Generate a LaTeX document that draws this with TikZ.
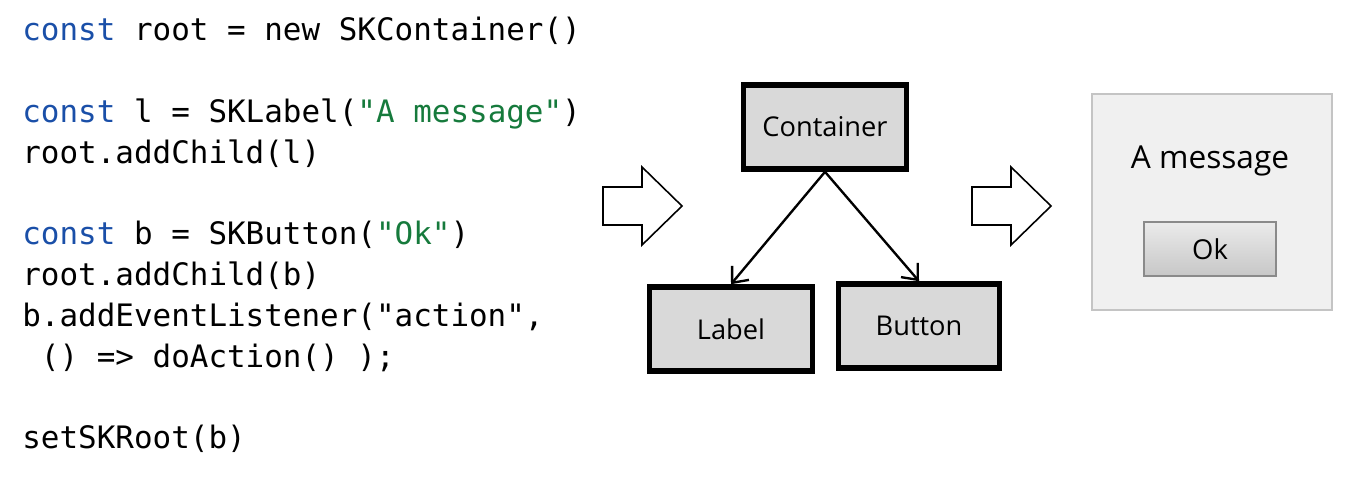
\documentclass[tikz,border=0pt]{standalone}
\usepackage{fontspec}
\setmainfont{Open Sans}
\setmonofont{DejaVu Sans Mono}
\usetikzlibrary{positioning, arrows.meta, calc}
\definecolor{kwblue}{HTML}{1A4FA8}
\definecolor{strgreen}{HTML}{167A3C}
\definecolor{boxgray}{HTML}{D9D9D9}
\definecolor{winfill}{HTML}{F0F0F0}
\definecolor{winedge}{HTML}{C4C4C4}
\definecolor{btnedge}{HTML}{8A8A8A}
\newcommand{\kw}[1]{\textcolor{kwblue}{#1}}
\newcommand{\str}[1]{\textcolor{strgreen}{#1}}

\begin{document}
\begin{tikzpicture}[x=0.02cm, y=-0.02cm,
    codeline/.style={anchor=base west, inner sep=0pt,
      font=\fontsize{17.6}{20}\selectfont\ttfamily},
    treebox/.style={draw, line width=3.2pt, fill=boxgray,
      minimum width=3.26cm, minimum height=1.68cm,
      font=\fontsize{15.5}{18}\selectfont},
    child/.style={line width=1.35pt, -{Straight Barb[length=2.6mm, width=4.4mm, line width=1.35pt]}},
    blockarrow/.style={draw, line width=0.9pt, fill=white, line join=miter}
  ]
  \useasboundingbox (0,0) rectangle (1361,495);

  % code on the left
  \node[codeline] (c1) at (22,40)  {\kw{const} root = new SKContainer()};
  \node[codeline] (c2) at (22,122) {\kw{const} l = SKLabel(\str{"A message"})};
  \node[codeline] (c3) at (22,163) {root.addChild(l)};
  \node[codeline] (c4) at (22,244) {\kw{const} b = SKButton(\str{"Ok"})};
  \node[codeline] (c5) at (22,285) {root.addChild(b)};
  \node[codeline] (c6) at (22,326) {b.addEventListener("action",};
  \node[codeline] (c7) at (22,367) {\ () => doAction() );};
  \node[codeline] (c8) at (22,448) {setSKRoot(b)};

  % tree
  \node[treebox] (ctr) at (825,127) {Container};
  \node[treebox] (lbl) at (731,329) {Label};
  \node[treebox, minimum width=3.22cm] (btn) at (919,326) {Button};
  \draw[child] (ctr.south) -- (lbl.north);
  \draw[child] (ctr.south) -- (btn.north);

  % block arrows
  \coordinate (a1) at (603,206);
  \coordinate (a2) at (972,206);
  \foreach \a in {a1, a2}
    \draw[blockarrow] ($(\a)+(0,-19)$) -- ++(39,0) -- ++(0,-20) -- ++(40,39)
      -- ++(-40,39) -- ++(0,-20) -- ++(-39,0) -- cycle;

  % resulting window
  \node[draw=winedge, fill=winfill, line width=1pt, minimum width=4.8cm,
        minimum height=4.32cm, inner sep=0pt] (win) at (1212,202) {};
  \node[font=\fontsize{18}{21}\selectfont] (msg) at (1210,161) {A message};
  \node[draw=btnedge, line width=1.4pt, top color=white!92!black,
        bottom color=black!22, minimum width=2.64cm, minimum height=1.08cm,
        font=\fontsize{15.6}{18}\selectfont] (ok) at (1210,249) {Ok};
\end{tikzpicture}
\end{document}
